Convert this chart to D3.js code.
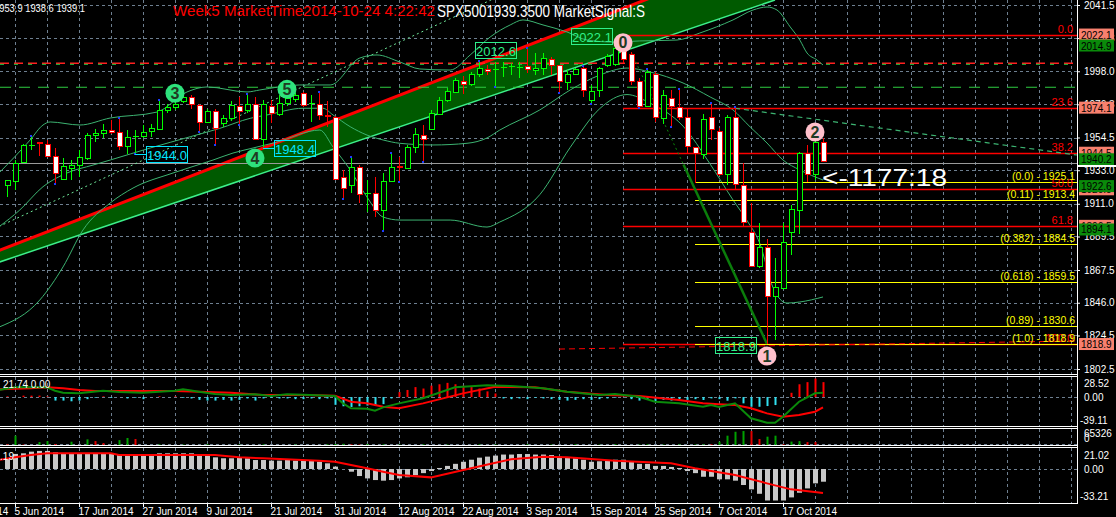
<!DOCTYPE html>
<html><head><meta charset="utf-8">
<script src="https://cdn.jsdelivr.net/npm/d3@7"></script>
<style>body{margin:0;background:#000;}svg{display:block;font-family:"Liberation Sans",Arial,sans-serif;}</style>
</head><body><svg id="c" width="1116" height="517"></svg>
<script>
// ---------- DATA ----------
const opens=[1922.7,1925.9,1938.6,1948.6,1951.5,1950.0,1942.4,1927.4,1934.5,1936.4,1940.6,1956.0,1957.3,1959.4,1958.3,1948.9,1955.3,1955.5,1958.3,1960.3,1972.1,1974.7,1978.5,1981.3,1975.8,1964.9,1972.1,1964.2,1967.1,1975.4,1972.6,1976.5,1953.7,1975.0,1970.4,1977.0,1980.0,1983.5,1976.8,1976.5,1969.6,1968.2,1928.8,1923.3,1934.9,1918.0,1918.3,1906.9,1926.1,1935.6,1934.9,1948.1,1956.1,1959.9,1970.2,1979.1,1984.6,1991.6,1989.4,1996.2,1999.3,1998.9,2000.0,2000.9,2000.2,2001.4,1998.8,2000.0,2005.9,2001.9,1991.1,1996.2,1999.9,1979.6,1985.7,2002.1,2002.8,2013.5,2009.3,1991.8,1975.2,1996.2,1967.1,1980.2,1974.7,1967.8,1948.1,1943.7,1968.2,1959.0,1930.5,1968.2,1923.3,1892.6,1869.7,1882.4,1850.4,1856.1,1892.0,1907.4,1944.5,1930.5,1951.7];
const highs=[1926.6,1939.7,1950.5,1955.0,1951.8,1952.9,1947.4,1940.8,1939.7,1946.3,1957.3,1960.3,1963.2,1966.0,1966.6,1959.4,1959.4,1962.7,1963.2,1978.7,1976.5,1978.5,1982.4,1982.4,1976.5,1973.0,1973.0,1969.3,1978.7,1981.3,1982.4,1981.3,1979.1,1979.1,1982.4,1982.4,1984.0,1984.6,1982.4,1983.9,1978.7,1968.6,1933.2,1940.8,1936.4,1926.6,1928.8,1931.0,1943.7,1941.9,1949.6,1960.5,1962.7,1972.6,1981.0,1987.0,1993.6,1994.9,1997.5,2004.3,2002.1,2004.3,2004.3,2003.4,2004.3,2012.6,2009.8,2009.8,2007.6,2002.1,1998.8,1999.9,2001.0,1989.0,2001.0,2009.3,2015.1,2022.1,2010.8,1993.4,1998.8,1997.7,1985.7,1985.7,1985.7,1973.7,1948.5,1969.9,1976.5,1960.5,1969.3,1973.7,1937.6,1911.3,1898.2,1887.6,1875.2,1898.2,1910.2,1945.2,1949.6,1956.1,1953.9];
const lows=[1915.6,1920.0,1938.0,1946.3,1942.4,1941.9,1924.4,1926.6,1926.6,1928.8,1939.7,1951.5,1954.0,1956.6,1946.3,1943.7,1944.0,1954.0,1954.6,1959.4,1970.4,1972.5,1977.2,1973.0,1958.8,1964.2,1950.0,1961.6,1965.5,1963.4,1970.4,1952.9,1948.4,1963.8,1968.6,1975.2,1978.0,1974.7,1964.9,1966.0,1961.6,1927.2,1914.6,1917.9,1911.3,1905.8,1902.5,1893.8,1925.5,1926.1,1934.5,1944.5,1939.3,1959.4,1969.0,1978.0,1983.9,1983.1,1988.3,1994.4,1995.5,1988.3,1994.4,1995.5,1993.4,1997.0,1995.5,1995.5,1995.5,1984.6,1985.7,1995.5,1981.3,1977.0,1981.3,2000.8,2001.4,2003.5,1989.0,1974.7,1974.7,1964.9,1963.4,1962.1,1966.0,1944.1,1924.4,1940.2,1952.9,1929.2,1923.3,1920.0,1895.9,1869.7,1868.6,1818.9,1821.5,1855.5,1877.4,1891.1,1925.5,1926.6,1938.6];
const closes=[1926.3,1938.0,1949.6,1949.3,1950.6,1942.4,1931.0,1935.8,1936.4,1941.9,1956.0,1957.3,1959.4,1958.3,1948.9,1955.0,1955.6,1958.3,1960.5,1972.6,1974.3,1976.5,1981.1,1976.5,1964.7,1972.1,1961.2,1967.3,1975.8,1972.4,1976.5,1953.7,1976.5,1970.4,1977.4,1980.2,1982.5,1975.8,1977.2,1969.3,1968.8,1927.7,1921.8,1935.3,1917.4,1918.3,1906.9,1926.1,1935.3,1935.0,1948.5,1956.8,1953.3,1970.4,1979.1,1985.2,1992.3,1989.4,1996.2,2000.3,1998.0,1999.7,2000.6,2001.4,2000.7,1999.7,2000.3,2006.5,2002.1,1991.1,1996.2,1999.3,1985.7,1985.2,1999.9,2008.0,2013.1,2006.0,1991.8,1975.2,1997.7,1968.2,1982.4,1975.2,1968.2,1948.5,1944.1,1966.5,1960.1,1931.0,1968.2,1924.0,1899.2,1870.1,1882.4,1850.4,1856.5,1886.1,1907.4,1944.5,1930.5,1951.7,1939.1];

const dateLabelIdx=[-7,1,9,17,25,33,41,49,57,65,73,81,89,97];
const dateLabels=["26 May 2014","5 Jun 2014","17 Jun 2014","27 Jun 2014","9 Jul 2014","21 Jul 2014","31 Jul 2014","12 Aug 2014","22 Aug 2014","3 Sep 2014","15 Sep 2014","25 Sep 2014","7 Oct 2014","17 Oct 2014"];
const priceTicks=[2041.5,2019.8,1998.0,1976.3,1954.5,1933.0,1911.0,1889.5,1867.5,1846.0,1824.5,1802.5];

const bbUpper=[[-1,1931.2],[2.9,1952.9],[4.5,1962.7],[5.4,1964.7],[9.1,1962.7],[12.9,1967.3],[18.75,1971.2],[22.5,1984.4],[25,1987.7],[30,1984.4],[31.6,1985.7],[36.6,1989.0],[40.4,1989.0],[44.1,2006.7],[46.25,2008.7],[49.1,2004.1],[51.6,1999.5],[55.4,1998.8],[57.9,2008.7],[60.4,2020.5],[62.9,2028.4],[64.5,2031.7],[67,2028.4],[70,2023.8],[72.5,2018.5],[75.75,2017.2],[79.1,2017.9],[83.75,2018.5],[86.6,2023.1],[90.75,2031.7],[93.25,2038.2],[95,2040.2],[96.25,2038.2],[97.9,2027.1],[99.1,2018.5],[100,2010.0],[101.25,2005.4],[102,2002.1]];
const bbMiddle=[[-1,1895.9],[1.6,1906.9],[4.5,1922.2],[7.5,1931.2],[10.75,1936.4],[12.9,1939.7],[17.9,1947.6],[22.9,1955.0],[26.6,1960.5],[30.4,1967.1],[32.5,1969.3],[37,1973.7],[39.5,1973.7],[40.75,1969.3],[42.9,1961.6],[45,1956.1],[47,1952.9],[49.1,1950.7],[53.25,1949.6],[57.5,1950.7],[60,1954.2],[61.6,1959.4],[66.6,1972.6],[70.4,1985.7],[74.1,1995.5],[77.5,2000.1],[80.4,1997.5],[84.5,1990.3],[87.9,1981.1],[90.75,1972.6],[92.9,1961.4],[95,1950.9],[97,1939.7],[99.1,1933.2],[102,1926.6]];
const bbLower=[[-1,1830.0],[4.1,1847.8],[7,1869.5],[9.5,1893.8],[12.9,1911.5],[15.75,1921.3],[20.75,1931.2],[25.75,1939.7],[28.25,1944.3],[30.75,1947.6],[33.75,1951.5],[39.1,1959.4],[40.75,1948.3],[42.9,1933.2],[45,1915.4],[47,1902.3],[49.1,1900.3],[55.4,1900.3],[60,1895.7],[61.6,1899.0],[66.6,1917.0],[70.4,1948.0],[74.1,1973.5],[77.5,1982.7],[80.4,1977.0],[84.5,1962.0],[87.9,1937.0],[90.75,1913.5],[92.5,1900.0],[94.1,1885.0],[95.75,1856.0],[97.5,1845.8],[99.1,1846.5],[102,1849.8]];

const channelUpper=[[-1,1880.3],[96,2077.9]];
const channelLower=[[-1,1872.6],[96,2044.8]];
const dottedTrend=[[-1,1896.1],[61,2046.0]];
const waveLine=[[77,2022.1],[95,1818.9]];
const greenTrend=[[91,1973.7],[133.75,1943.0]];
const redDashTrend=[[69,1815.6],[133.75,1820.9]];
const hLevelRed=2003.2, hLevelGreen=1987.5, bidLine=1937.6;

const fibHigh=2022.1, fibLow=1818.9, fibStart=77;
const fibLevels=[0,23.6,38.2,50.0,61.8,100];
const expTop=1925.1, expStart=86;
const expLevels=[0,0.11,0.382,0.618,0.89,1.0];
const expNames=["0.0","0.11","0.382","0.618","0.89","1.0"];

const upFractals=[3,14,19,30,39,43,48,59,65,72,80,84,88,91];
const downFractals=[6,16,24,26,29,42,47,49,52,61,69,73,79,83];

const waveMarks=[{i:77,p:2016.7,t:"0",k:"pink"},{i:95,p:1811.0,t:"1",k:"pink"},{i:101,p:1958.1,t:"2",k:"pink"},{i:21,p:1983.5,t:"3",k:"green"},{i:31,p:1941.0,t:"4",k:"green"},{i:35,p:1986.1,t:"5",k:"green"}];
const cyanBoxes=[{i:16,p:1944.0},{i:32,p:1948.4}];
const greenBoxes=[{i:65,p:2012.6},{i:77,p:2022.1},{i:95,p:1818.9}];
const axisBoxes=[{v:2022.1,k:"red"},{v:2014.9,k:"green"},{v:1974.1,k:"red"},{v:1944.5,k:"red"},{v:1940.2,k:"green"},{v:1920.5,k:"red"},{v:1922.6,k:"green"},{v:1896.5,k:"red"},{v:1894.1,k:"green"},{v:1818.9,k:"red"}];

const oscHist=[1,0,2,2,2,1,-5,-5,-6,-5,-3,-1,1,-1,0,-2,-1,-3,0,1,0,1,-1,-2,-4,-5,-5,-4,-5,-4,-2,-5,-2,-1,-2,-2,-3,-3,-2,-3,-2,-11,-13,-14,-13,-12,-12,-10,-2,7,10,14,12,16,18,20,18,16,14,12,8,5,-2,-3,-2,-3,-1,-2,-3,-4,-5,-4,-3,-4,-3,-2,-1,0,-3,-5,-4,-6,-4,-5,-3,-4,-3,-4.2,-1.9,-3,-5.2,-1.9,-8.9,-13.7,-13.7,-12.7,-11.3,0,6,18,21,26,21];
const oscGreen=[[-1,9.9],[1,13.7],[5,13.7],[6,8.9],[7,6.1],[9,5.2],[12,8.9],[14,7.0],[17,6.1],[21,8.9],[22,10.8],[24,7.5],[26,4.2],[28,2.8],[31,3.8],[33,1.4],[35,3.8],[37,3.2],[41,1.4],[42,-8.9],[43,-15.9],[45,-16.5],[46,-19.3],[47,-14.5],[49,-8.9],[52,-1.8],[56,13.7],[60,16.5],[63,15.5],[67,12.3],[70,7.5],[74,2.8],[76,4.2],[79,0.4],[81,-6.6],[84,-8.9],[87,-13.7],[88,-11.3],[89,-14],[91,-8.9],[93,-30],[95,-36.2],[96,-36.2],[97,-27.7],[99,-6.6],[101,5.2],[102,6.1]];
const oscRed=[[-1,10.8],[3,12.3],[5,13.7],[7,12.3],[9,9.9],[11,8.5],[16,8.5],[21,8.5],[24,7.5],[28,6.1],[32,2.8],[37,2.8],[41,1.8],[43,-6.6],[45,-8.9],[47,-13.7],[49,-15.9],[52,-8.9],[57,5.2],[61,14.5],[66,13.7],[70,7.5],[75,2.8],[79,1.4],[84,-4.2],[87,-8.9],[89,-10.3],[91,-11.3],[93,-15.9],[95,-23],[97,-27.7],[99,-25.4],[101,-20.7],[102,-14.5]];

const volumes=[3000,38000,2000,0,12000,16000,4000,0,13500,0,23000,16000,8000,0,20000,28600,24500,0,0,3000,0,0,2000,0,0,3000,0,0,0,2000,0,0,3000,0,0,0,2000,0,0,0,3000,4000,5000,3000,2000,4000,0,3000,0,2000,0,0,3000,0,0,2000,0,0,0,3000,0,2000,0,0,0,3000,0,0,2000,0,0,3000,0,0,2000,0,3000,0,0,2000,3000,0,2000,0,3000,0,2000,3000,3000,13500,38000,54000,57000,57000,24500,34000,38000,3000,14000,16000,12000,12000,0];

const macdHist=[10.4,14.6,15.2,16.8,17.5,17.5,16.2,15.2,15.2,15.2,15.2,15.2,15.2,15.2,13.6,13.6,13.6,13.6,13.6,15.2,15.2,15.2,15.2,15.2,13.6,12.9,11.3,10.4,10.4,11.3,10.4,8.7,8.7,8.1,8.1,9.4,8.1,8.1,8.1,7.1,5.5,2.3,0,-2.6,-6.8,-9.1,-10.7,-11.3,-10.7,-9.1,-8,-6,-4,-2,1,3,5,7,9,11,12,13,14,14,14.5,14.5,14,14,13.5,12,11,10.5,9,7,7.5,8,9,9,7,5,5,3,3,2,1,-2,-4,-7.5,-7.5,-10,-10,-11.3,-15.5,-19.7,-24,-30.5,-30.5,-30.5,-27.5,-23,-18.8,-13.9,-12.3];
const macdSignal=[[-1,8.7],[1,11.4],[3,13.6],[5,15.2],[13,15.2],[14,13.6],[26,13.6],[29,11.4],[32,10.4],[39,8.1],[41,7.1],[43,3.9],[45,0.7],[47,-2.6],[49,-5.8],[53,-8.1],[58,0.7],[63,9.4],[67,11.9],[70,11.4],[76,8.1],[83,5.5],[86,0.7],[91,-5.8],[95,-13.9],[98,-19.7],[102,-23.3]];

// ---------- LAYOUT ----------
const W=1116,H=517,R=1077;
const svg=d3.select("#c");
svg.append("rect").attr("width",W).attr("height",H).attr("fill","#000");
const x=d3.scaleLinear().domain([0,1]).range([7,15]);
const y=d3.scaleLinear().domain([1802.5,2041.5]).range([369,5]);
const yOsc=d3.scaleLinear().domain([-39.11,28.52]).range([424.8,376.8]);
const yVol=d3.scaleLinear().domain([0,65326]).range([445,429]);
const yMacd=d3.scaleLinear().domain([-33.21,21.02]).range([503.3,447.3]);
const panels={main:[0,374],osc:[377,426],vol:[429,445],macd:[448,503]};
const defs=svg.append("defs");
Object.entries(panels).forEach(([k,[t,b]])=>{
  defs.append("clipPath").attr("id","cl-"+k).append("rect").attr("x",0).attr("y",t).attr("width",R).attr("height",b-t);
});
const G={};
Object.keys(panels).forEach(k=>{G[k]=svg.append("g").attr("clip-path","url(#cl-"+k+")");});
const GRID="#6e7f90";
const gridIdx=d3.range(-3,134,4);
Object.entries(panels).forEach(([k,[t,b]])=>{
  G[k].selectAll("line.vg").data(gridIdx).join("line").attr("class","vg")
   .attr("x1",d=>Math.round(x(d))+0.5).attr("x2",d=>Math.round(x(d))+0.5).attr("y1",t).attr("y2",b)
   .attr("stroke",GRID).attr("stroke-dasharray","3,3");
});
const M=G.main;
M.selectAll("line.hg").data(priceTicks).join("line").attr("class","hg")
 .attr("x1",0).attr("x2",R).attr("y1",d=>Math.round(y(d))+0.5).attr("y2",d=>Math.round(y(d))+0.5)
 .attr("stroke",GRID).attr("stroke-dasharray","3,3");

const lineP=d3.line().x(d=>x(d[0])).y(d=>y(d[1]));
const curveP=d3.line().x(d=>x(d[0])).y(d=>y(d[1])).curve(d3.curveMonotoneX);

// channel
const poly=[channelUpper[0],channelUpper[1],channelLower[1],channelLower[0]].map(d=>[x(d[0]),y(d[1])]);
M.append("polygon").attr("points",poly.map(p=>p.join(",")).join(" ")).attr("fill","#005a00");
M.append("path").attr("d",lineP(channelLower)).attr("stroke","#3cf08a").attr("stroke-width",1.5).attr("fill","none");
M.append("path").attr("d",lineP(channelUpper)).attr("stroke","#ff0000").attr("stroke-width",3).attr("fill","none");

// horizontal levels
M.append("line").attr("x1",0).attr("x2",R).attr("y1",y(hLevelRed)).attr("y2",y(hLevelRed)).attr("stroke","#ff2020").attr("stroke-width",1.5).attr("stroke-dasharray","9,5");
M.append("line").attr("x1",0).attr("x2",R).attr("y1",y(hLevelRed)+1).attr("y2",y(hLevelRed)+1).attr("stroke","#22cc44").attr("stroke-width",1).attr("stroke-dasharray","4,10");
M.append("line").attr("x1",0).attr("x2",R).attr("y1",y(hLevelGreen)).attr("y2",y(hLevelGreen)).attr("stroke","#2ecc40").attr("stroke-width",1.2).attr("stroke-dasharray","11,8");
M.append("line").attr("x1",0).attr("x2",R).attr("y1",Math.round(y(bidLine))+0.5).attr("y2",Math.round(y(bidLine))+0.5).attr("stroke","#9a9a9a");

// dotted diagonal
M.append("path").attr("d",lineP(dottedTrend)).attr("stroke","#6fe89a").attr("stroke-dasharray","2,3").attr("fill","none");

// bands
[bbUpper,bbMiddle,bbLower].forEach(a=>M.append("path").attr("d",curveP(a)).attr("stroke","#3cb371").attr("fill","none"));

// fib retracement
const fibP=l=>fibHigh-(fibHigh-fibLow)*l/100;
fibLevels.forEach(l=>{
  const yy=Math.round(y(fibP(l)))+0.5;
  M.append("line").attr("x1",x(fibStart)).attr("x2",R).attr("y1",yy).attr("y2",yy).attr("stroke","#ff0000").attr("stroke-width",1.5);
});
// expansion
const expP=l=>expTop-(expTop-fibLow)*l;
expLevels.forEach(l=>{
  const yy=Math.round(y(expP(l)))+0.5;
  M.append("line").attr("x1",x(expStart)).attr("x2",R).attr("y1",yy).attr("y2",yy).attr("stroke","#ffff00").attr("stroke-width",1.2);
});
M.append("path").attr("d",lineP(redDashTrend)).attr("stroke","#ff0000").attr("stroke-dasharray","6,4").attr("fill","none");
M.append("path").attr("d",lineP(greenTrend)).attr("stroke","#3cb371").attr("stroke-dasharray","5,4").attr("stroke-width",1.2).attr("fill","none");

// wave line
const wp=t=>[waveLine[0][0]+(waveLine[1][0]-waveLine[0][0])*t, waveLine[0][1]+(waveLine[1][1]-waveLine[0][1])*t];
M.append("path").attr("d",lineP([waveLine[0],wp(0.42)])).attr("stroke","#0a8a0a").attr("stroke-dasharray","2,3").attr("fill","none");
M.append("path").attr("d",lineP([wp(0.42),waveLine[1]])).attr("stroke","#0b7d0b").attr("stroke-width",2.5).attr("fill","none");

// candles
const cg=M.append("g").attr("shape-rendering","crispEdges");
opens.forEach((o,i)=>{
  const c=closes[i],up=c>=o,col=up?"#00ff00":"#ff0000";
  const xc=Math.round(x(i))+0.5;
  cg.append("line").attr("x1",xc).attr("x2",xc).attr("y1",y(highs[i])).attr("y2",y(lows[i])).attr("stroke",col);
  const top=y(Math.max(o,c)),bot=y(Math.min(o,c));
  if(bot-top<1.6){
    cg.append("line").attr("x1",xc-3).attr("x2",xc+3).attr("y1",Math.round(top)+0.5).attr("y2",Math.round(top)+0.5).attr("stroke",col).attr("stroke-width",up?1:2);
  } else {
    cg.append("rect").attr("x",xc-2.5).attr("y",Math.round(top)+0.5).attr("width",5).attr("height",Math.round(bot-top))
      .attr("fill",up?"#000":"#fff").attr("stroke",col);
  }
});
upFractals.forEach(i=>cg.append("rect").attr("x",Math.round(x(i))-1).attr("y",y(highs[i])-2).attr("width",2).attr("height",2).attr("fill","#1e3cff"));
downFractals.forEach(i=>cg.append("rect").attr("x",Math.round(x(i))-1).attr("y",y(lows[i])).attr("width",2).attr("height",2).attr("fill","#1e3cff"));

// annotation boxes
cyanBoxes.forEach(b=>{
  const yy=Math.round(y(b.p))+1.5, x0=Math.round(x(b.i));
  M.append("line").attr("x1",x0).attr("x2",x0+11).attr("y1",yy).attr("y2",yy).attr("stroke","#00e5ff");
  M.append("rect").attr("x",x0+11.5).attr("y",yy-8).attr("width",41).attr("height",16).attr("fill","none").attr("stroke","#00e5ff");
  M.append("text").attr("x",x0+32).attr("y",yy+5).attr("text-anchor","middle").attr("fill","#00e5ff").attr("font-size",13).text(b.p.toFixed(1));
});
greenBoxes.forEach(b=>{
  const yy=Math.round(y(b.p))+1.5, xr=Math.round(x(b.i))-10;
  M.append("rect").attr("x",xr-41.5).attr("y",yy-8).attr("width",41).attr("height",16).attr("fill","none").attr("stroke","#2ef08a");
  M.append("text").attr("x",xr-21).attr("y",yy+5).attr("text-anchor","middle").attr("fill","#2ef08a").attr("font-size",13).text(b.p.toFixed(1));
});
waveMarks.forEach(m=>{
  const cx=x(m.i),cy=y(m.p);
  M.append("circle").attr("cx",cx).attr("cy",cy).attr("r",9.5).attr("fill",m.k==="pink"?"#ffc0cb":"#2ee27c");
  M.append("text").attr("x",cx).attr("y",cy+5.5).attr("text-anchor","middle").attr("font-weight","bold").attr("font-size",16).attr("fill","#1f3a22").text(m.t);
});

// fib labels
fibLevels.forEach(l=>{
  M.append("text").attr("x",1073).attr("y",y(fibP(l))-2).attr("text-anchor","end").attr("fill","#ff0000").attr("font-size",11).text(l.toFixed(1));
});
expLevels.forEach((l,k)=>{
  M.append("text").attr("x",1075).attr("y",y(expP(l))-2).attr("text-anchor","end").attr("fill","#ffff00").attr("font-size",10.5)
   .text("("+expNames[k]+")  -  "+expP(l).toFixed(1));
});
M.append("text").attr("x",x(102)-1).attr("y",186).attr("fill","#fff").attr("font-size",24).attr("textLength",125).attr("lengthAdjust","spacingAndGlyphs").text("<-1177:18");

// osc panel
const O=G.osc;
O.append("line").attr("x1",0).attr("x2",R).attr("y1",Math.round(yOsc(0))+0.5).attr("y2",Math.round(yOsc(0))+0.5).attr("stroke",GRID).attr("stroke-dasharray","3,3");
O.selectAll("line.h").data(oscHist).join("line").attr("class","h")
 .attr("x1",(d,i)=>Math.round(x(i))+0.5).attr("x2",(d,i)=>Math.round(x(i))+0.5).attr("y1",yOsc(0)).attr("y2",d=>yOsc(d))
 .attr("stroke",d=>d>=0?"#ff0000":"#30e0f0").attr("stroke-width",2);
const lineO=d3.line().x(d=>x(d[0])).y(d=>yOsc(d[1]));
O.append("path").attr("d",lineO(oscRed)).attr("stroke","#ff0000").attr("stroke-width",2).attr("fill","none");
O.append("path").attr("d",lineO(oscGreen)).attr("stroke","#0a8a0a").attr("stroke-width",2).attr("fill","none");

// volume panel
const V=G.vol;
V.append("line").attr("x1",0).attr("x2",R).attr("y1",444.5).attr("y2",444.5).attr("stroke",GRID).attr("stroke-dasharray","3,3");
V.selectAll("line.v").data(volumes).join("line").attr("class","v")
 .attr("x1",(d,i)=>Math.round(x(i))+0.5).attr("x2",(d,i)=>Math.round(x(i))+0.5).attr("y1",yVol(0)).attr("y2",d=>yVol(d))
 .attr("stroke",(d,i)=>i>0&&d>volumes[i-1]?"#00a000":"#e00000").attr("stroke-width",2);

// macd panel
const Mc=G.macd;
Mc.append("line").attr("x1",0).attr("x2",R).attr("y1",Math.round(yMacd(0))+0.5).attr("y2",Math.round(yMacd(0))+0.5).attr("stroke",GRID).attr("stroke-dasharray","3,3");
Mc.selectAll("rect.m").data(macdHist).join("rect").attr("class","m")
 .attr("x",(d,i)=>Math.round(x(i))-2).attr("width",5)
 .attr("y",d=>Math.min(yMacd(0),yMacd(d))).attr("height",d=>Math.abs(yMacd(d)-yMacd(0)))
 .attr("fill","#c8c8c8");
Mc.append("path").attr("d",d3.line().x(d=>x(d[0])).y(d=>yMacd(d[1]))(macdSignal)).attr("stroke","#ff0000").attr("stroke-width",2).attr("fill","none");

// frames
const F=svg.append("g").attr("stroke","#fff").attr("shape-rendering","crispEdges");
[374,376,426,428,445,447].forEach(v=>F.append("line").attr("x1",0).attr("x2",R+1).attr("y1",v+0.5).attr("y2",v+0.5).attr("stroke-width",1.5));
F.append("line").attr("x1",0).attr("x2",R+1).attr("y1",503.5).attr("y2",503.5);
F.append("line").attr("x1",R+0.5).attr("x2",R+0.5).attr("y1",0).attr("y2",504);

// price axis
const ax=svg.append("g").attr("transform","translate("+R+",0)")
 .call(d3.axisRight(y).tickValues(priceTicks).tickFormat(d3.format(".1f")).tickSize(3).tickPadding(4));
ax.select(".domain").remove();
ax.selectAll("line").attr("stroke","#fff");
ax.selectAll("text").attr("fill","#fff").attr("font-size",10).attr("font-family","Liberation Sans, Arial");
axisBoxes.forEach(b=>{
  const yy=y(b.v);
  svg.append("rect").attr("x",1079).attr("y",yy-6).attr("width",35).attr("height",12).attr("fill",b.k==="red"?"#f8806e":"#0a8a0a");
  svg.append("text").attr("x",1081).attr("y",yy+4).attr("fill","#000").attr("font-size",10).text(b.v.toFixed(1));
});
svg.append("rect").attr("x",R).attr("y",Math.round(y(bidLine))+2).attr("width",39).attr("height",2).attr("fill","#fff");

// sub-panel labels
const subLab=[["28.52",383,1084],["0.00",397,1084],["-39.11",420,1080],["65326",433,1084],["0",438,1084],["21.02",455,1084],["0.00",469,1084],["-33.21",496,1080]];
subLab.forEach(s=>svg.append("text").attr("x",s[2]).attr("y",s[1]+4).attr("fill","#fff").attr("font-size",10).text(s[0]));
svg.append("text").attr("x",3).attr("y",388).attr("fill","#fff").attr("font-size",10).text("21.74 0.00");
svg.append("text").attr("x",14).attr("y",460).attr("text-anchor","end").attr("fill","#fff").attr("font-size",10).text("1.19");

// time axis
const xa=svg.append("g").attr("transform","translate(0,503)")
 .call(d3.axisBottom(x).tickValues(dateLabelIdx).tickFormat((d,k)=>dateLabels[k]).tickSize(4).tickPadding(1));
xa.select(".domain").remove();
xa.selectAll("line").attr("stroke","#fff");
xa.selectAll("text").attr("fill","#fff").attr("font-size",10).attr("text-anchor","start").attr("dx",-1).attr("font-family","Liberation Sans, Arial");

// header
svg.append("text").attr("x",85).attr("y",12).attr("text-anchor","end").attr("fill","#fff").attr("font-size",11).attr("textLength",91).attr("lengthAdjust","spacingAndGlyphs").text("1953.9 1938.6 1939.1");
svg.append("text").attr("x",173).attr("y",16).attr("fill","#ff0000").attr("font-size",15).attr("textLength",262).attr("lengthAdjust","spacingAndGlyphs").text("Week5  MarketTime2014-10-24 4:22:42");
svg.append("text").attr("x",437).attr("y",16.5).attr("fill","#fff").attr("font-size",17).attr("textLength",208).attr("lengthAdjust","spacingAndGlyphs").text("SPX5001939.3500  MarketSignal:S");
</script></body></html>
